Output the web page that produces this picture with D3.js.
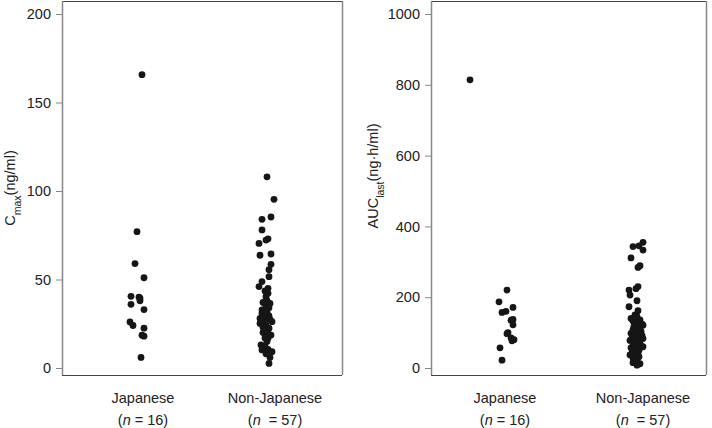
<!DOCTYPE html>
<html>
<head>
<meta charset="utf-8">
<script src="https://cdn.jsdelivr.net/npm/d3@7"></script>
<style>
  body { margin: 0; background: #fff; }
  text { font-family: "Liberation Sans", Arial, sans-serif; fill: #222; }
</style>
</head>
<body>
<div id="chart"></div>
<script>
const width = 712;
const height = 428;

const categories = ["Japanese", "Non-Japanese"];
const groupSizes = ["16", "57"];

// Cmax (ng/ml)
const cmaxJapanese = [165.7, 77, 59, 51, 40.5, 40, 39.5, 38, 36, 33, 26, 24, 22.5, 18.5, 18, 6];
const cmaxJapaneseJitter = [-1, -6, -8, 1, -12, -4, -3, -3, -12, 1, -13, -10, 1, -1, 1, -2];
const cmaxNonJapanese = [108, 95.3, 85.3, 84, 78, 73, 72.3, 70.4, 64.4, 63.7, 58.6, 55.5, 51.6, 48.8, 46, 45,
  42.2, 40.3, 36.5, 35, 32.8, 30.9, 28, 27.1, 26.2, 25.2, 24.3, 21.5, 19.6, 18.6, 16.8, 13, 12, 10.2, 10.5,
  9.2, 6, 2.6, 43.5, 38, 37, 34, 31.5, 30, 29.5, 29, 28.5, 27.5, 26, 23, 22.5, 21, 20, 17, 15, 11, 8];
const cmaxNonJapaneseJitter = [-8, -1, -4, -13, -13, -7, -9, -16, -4, -15, -4, -6, -6, -13, -16, -7,
  -7, -9, -5, -9, -13, -13, -15, -10, -3, -15, -9, -7, -9, -4, -7, -14, -10, -13, -7,
  -3, -5, -6, -10, -8, -12, -6, -8, -10, -6, -12, -8, -5, -11, -12, -6, -10, -12, -10, -8, -11, -9];

// AUClast (ng·h/ml)
const aucJapanese = [814, 220, 187, 171, 160, 157, 137, 135, 122, 100, 97, 85, 80, 77, 57, 22];
const aucJapaneseJitter = [-35, 2, -6, 8, 1, -3, 8, 6, 8, 3, 2, 6, 9, 7, -5, -3];
const aucNonJapanese = [355, 345, 343, 333, 311, 289, 284, 230, 224, 220, 206, 190, 173, 162,
  150, 145, 140, 136, 133, 128, 124, 121, 118, 112, 108, 104, 101, 98, 95, 92, 90, 88, 85, 83,
  80, 78, 75, 72, 68, 65, 62, 60, 57, 54, 50, 47, 43, 40, 37, 35, 32, 28, 25, 20, 15, 12, 8];
const aucNonJapaneseJitter = [0, -4, -10, 0, -12, -3, -5, -5, -7, -14, -13, -6, -14, -5,
  -8, -6, -12, -3, -10, -5, -1, 0, -9, -4, -10, -2, -7, -12, -4, -1, -9, -6, -11, 0,
  -5, -13, -3, -8, -10, -6, -2, 0, -12, -7, -4, -9, -11, -5, -13, -7, -4, -10, -8, -6, -10, -3, -6];

const cmaxTicks = [0, 50, 100, 150, 200];
const aucTicks = [0, 200, 400, 600, 800, 1000];

const svg = d3.select("#chart")
  .append("svg")
  .attr("width", width)
  .attr("height", height);

const jitter = d3.scaleLinear().domain([-1, 1]).range([-1, 1]);
const fontSize = "14.5px";

function drawPanel(opts) {
  const g = svg.append("g");
  const top = 1, bottom = 375;

  const y = d3.scaleLinear().domain(opts.domain).range([368, 14]);
  const x = d3.scalePoint().domain(categories)
    .range([opts.left + opts.catOffsets[0], opts.left + opts.catOffsets[1]]);

  // box
  g.append("line").attr("x1", opts.left).attr("x2", opts.right)
    .attr("y1", top + 0.5).attr("y2", top + 0.5).attr("stroke", "#444");
  g.append("line").attr("x1", opts.left).attr("x2", opts.right)
    .attr("y1", bottom + 0.5).attr("y2", bottom + 0.5).attr("stroke", "#444");
  g.append("line").attr("x1", opts.right + 0.5).attr("x2", opts.right + 0.5)
    .attr("y1", top).attr("y2", bottom).attr("stroke", "#888").attr("stroke-width", 1.5);

  // y axis
  const axis = g.append("g")
    .attr("transform", `translate(${opts.left},0)`)
    .call(d3.axisLeft(y).tickValues(opts.ticks).tickFormat(d3.format("d")).tickSize(6).tickPadding(5));
  axis.select(".domain").attr("d", `M0.5,${top}V${bottom}`).attr("stroke", "#888").attr("stroke-width", 1.5);
  axis.selectAll(".tick line").attr("stroke", "#888");
  axis.selectAll(".tick text")
    .style("font-family", "'Liberation Sans', Arial, sans-serif")
    .style("font-size", fontSize).attr("fill", "#222");

  // axis title
  const title = g.append("text")
    .attr("transform", `translate(${opts.titleX},${opts.titleY}) rotate(-90)`)
    .attr("text-anchor", "middle")
    .style("font-size", fontSize);
  title.append("tspan").text(opts.titleMain);
  title.append("tspan").attr("baseline-shift", "sub").style("font-size", "10.5px").text(opts.titleSub);
  title.append("tspan").text(opts.titleUnit);

  // category labels
  categories.forEach((c, i) => {
    g.append("text").attr("x", x(c)).attr("y", 403)
      .attr("text-anchor", "middle").style("font-size", fontSize).text(c);
    const t = g.append("text").attr("x", x(c)).attr("y", 425)
      .attr("text-anchor", "middle").style("font-size", fontSize)
      .style("white-space", "pre");
    t.append("tspan").text("(");
    t.append("tspan").style("font-style", "italic").text("n");
    t.append("tspan").text((i === 1 ? "  = " : " = ") + groupSizes[i] + ")");
  });

  // points
  opts.series.forEach((s, i) => {
    const pts = s.values.map((v, k) => ({ v: v, j: s.jitter[k] }));
    g.selectAll(null)
      .data(pts)
      .enter()
      .append("circle")
      .attr("cx", d => x(categories[i]) + jitter(d.j))
      .attr("cy", d => y(d.v))
      .attr("r", 3.4)
      .attr("fill", "#161616");
  });
}

drawPanel({
  left: 62, right: 342, catOffsets: [81, 213],
  domain: [0, 200], ticks: cmaxTicks,
  titleX: 15, titleY: 188, titleMain: "C", titleSub: "max", titleUnit: "(ng/ml)",
  series: [
    { values: cmaxJapanese, jitter: cmaxJapaneseJitter },
    { values: cmaxNonJapanese, jitter: cmaxNonJapaneseJitter }
  ]
});

drawPanel({
  left: 431, right: 706, catOffsets: [74, 212],
  domain: [0, 1000], ticks: aucTicks,
  titleX: 378, titleY: 176, titleMain: "AUC", titleSub: "last", titleUnit: "(ng·h/ml)",
  series: [
    { values: aucJapanese, jitter: aucJapaneseJitter },
    { values: aucNonJapanese, jitter: aucNonJapaneseJitter }
  ]
});
</script>
</body>
</html>
